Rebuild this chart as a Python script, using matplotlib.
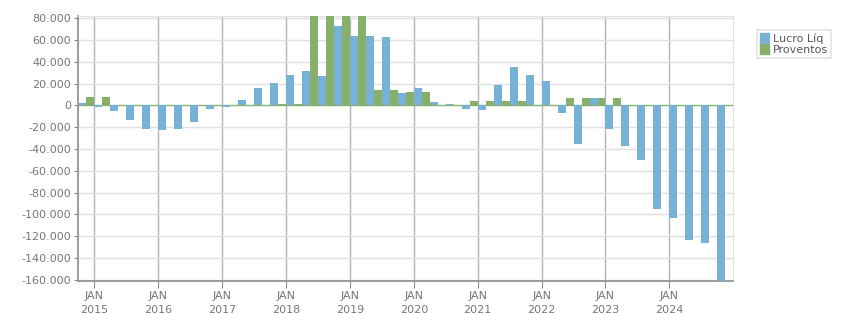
import matplotlib
matplotlib.use('Agg')
import matplotlib.pyplot as plt
import numpy as np

# quarterly data, 4T14 .. 4T24
quarters = ['4T14'] + ['%dT%02d' % (q, y) for y in range(15, 25) for q in range(1, 5)]
lucro = [1850, -1850, -5500, -13800, -21200, -22150, -21200, -14800, -3700, -1850,
         4600, 15700, 20300, 27700, 31400, 26800, 72900, 63700, 63700, 62800,
         11100, 15700, 2800, 900, -3700, -4600, 18500, 35100, 27700, 22200,
         -6500, -35100, 6500, -21200, -36900, -49800, -94800, -103400, -123700, -126500,
         -165000]
proventos = [7400, 7400, 0, 0, 0, 0, 0, 0, 0, 0,
             0, 0, 1000, 1000, 85000, 85000, 85000, 85000, 13800, 13800,
             12000, 12000, 0, 0, 3700, 3700, 3700, 3700, 0, 0,
             6500, 6500, 6500, 6500, 0, 0, 0, 0, 0, 0,
             0]
years = list(range(2015, 2025))

blue = '#77b1d5'
green = '#86b06a'
txt = '#777777'

fig = plt.figure(figsize=(8.51, 3.13), dpi=100)
ax = fig.add_axes([0.092, 0.1022, 0.7697, 0.8467])

x = np.arange(len(quarters))
ax.axhline(0, color=green, lw=0.9, zorder=2)
ax.bar(x + 0.25, lucro, width=0.5, color=blue, zorder=3, linewidth=0)
ax.bar(x + 0.75, proventos, width=0.5, color=green, zorder=3, linewidth=0)

ax.set_xlim(0, len(quarters))
ax.set_ylim(-161000, 82000)

yt = np.arange(-160000, 80001, 20000)
ax.set_yticks(yt)
ax.set_yticklabels(['{:,}'.format(int(v)).replace(',', '.') for v in yt])
xt = [1 + 4 * i for i in range(len(years))]
ax.set_xticks(xt)
ax.set_xticklabels(['JAN\n%d' % y for y in years])

ax.grid(axis='y', color='#e0e0e0', lw=1, zorder=0)
ax.grid(axis='x', color='#b4b4b4', lw=1, zorder=1)

for s in ['top', 'right']:
    ax.spines[s].set_color('#e2e2e2')
for s in ['left', 'bottom']:
    ax.spines[s].set_color('#8c8c8c')
    ax.spines[s].set_linewidth(1.2)
ax.tick_params(axis='y', colors='#8c8c8c', labelcolor=txt, labelsize=8, length=3, pad=2)
ax.tick_params(axis='x', colors='#8c8c8c', labelcolor=txt, labelsize=8, length=5, pad=2)
for lab in ax.get_xticklabels():
    lab.set_linespacing(1.5)

leg = fig.legend(handles=[plt.Rectangle((0, 0), 1, 1, color=blue),
                          plt.Rectangle((0, 0), 1, 1, color=green)],
                 labels=['Lucro Líq', 'Proventos'],
                 loc='upper left', bbox_to_anchor=(757 / 851, 1 - 30 / 313),
                 fontsize=8, frameon=True, fancybox=False, borderpad=0.3,
                 handlelength=0.8, handleheight=0.9, handletextpad=0.3,
                 labelspacing=0.05, borderaxespad=0)
leg.get_frame().set_edgecolor('#dddddd')
leg.get_frame().set_linewidth(1.2)
for t in leg.get_texts():
    t.set_color('#555566')

fig.savefig('out.png', dpi=100)
